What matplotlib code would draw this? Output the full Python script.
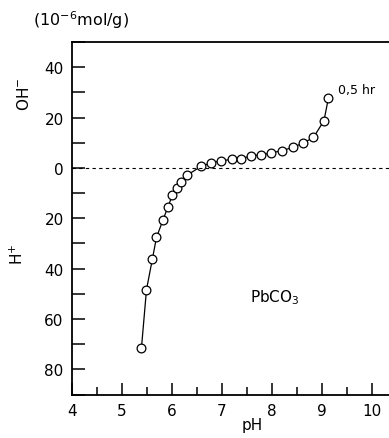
import matplotlib
matplotlib.use('Agg')
import matplotlib.pyplot as plt
from matplotlib.ticker import MultipleLocator, FuncFormatter

plt.rcParams['font.family'] = ['DejaVu Sans']

# pH vs adsorbed amount (1e-6 mol/g), positive = OH-, negative = H+
ph = [5.39, 5.49, 5.61, 5.69, 5.82, 5.92, 6.01, 6.10, 6.19, 6.31,
      6.58, 6.79, 6.99, 7.21, 7.38, 7.59, 7.79, 7.99, 8.21, 8.42,
      8.63, 8.83, 9.04, 9.13]
amount = [-71.4, -48.4, -36.0, -27.6, -20.7, -15.4, -10.8, -7.9, -5.4, -2.8,
          0.6, 2.1, 2.8, 3.5, 3.6, 4.9, 5.2, 6.0, 6.9, 8.2,
          9.9, 12.1, 18.8, 27.9]
curve_label = '0,5 hr'
sample = 'PbCO$_3$'

fig = plt.figure(figsize=(3.89, 4.39), dpi=100)
ax = fig.add_axes([0.185, 0.099, 0.815, 0.803])

ax.plot(ph, amount, '-', color='black', lw=0.9, marker='o', ms=6.3,
        mfc='white', mec='black', mew=0.9)
ax.axhline(0, color='black', lw=0.8, ls=(0, (3, 3)))

ax.set_xlim(4, 10.34)
ax.set_ylim(-90, 50)

ax.spines['right'].set_visible(False)
for s in ['left', 'bottom', 'top']:
    ax.spines[s].set_linewidth(1.3)

ax.xaxis.set_major_locator(MultipleLocator(1))
ax.xaxis.set_minor_locator(MultipleLocator(0.5))
ax.yaxis.set_minor_locator(MultipleLocator(10))
ax.set_yticks([40, 20, 0, -20, -40, -60, -80])
ax.yaxis.set_major_formatter(FuncFormatter(lambda v, p: '%d' % abs(v)))

ax.tick_params(axis='both', which='both', direction='in', width=1.1,
               labelsize=11, top=False, right=False)
ax.tick_params(axis='y', which='both', length=9, pad=6)
ax.tick_params(axis='x', which='major', length=9, pad=6)
ax.tick_params(axis='x', which='minor', length=6)

fig.text(0.085, 0.955, '(10$^{-6}$mol/g)', fontsize=11.5, ha='left', va='center')
fig.text(0.062, 0.785, 'OH$^{-}$', fontsize=11, rotation=90, ha='center', va='center')
fig.text(0.045, 0.42, 'H$^{+}$', fontsize=11, rotation=90, ha='center', va='center')
fig.text(0.648, 0.03, 'pH', fontsize=11, ha='center', va='center')

ax.text(9.33, 31, curve_label, fontsize=9, ha='left', va='center')
ax.text(8.05, -51, sample, fontsize=11, ha='center', va='center')

fig.savefig('out.png', dpi=100)
